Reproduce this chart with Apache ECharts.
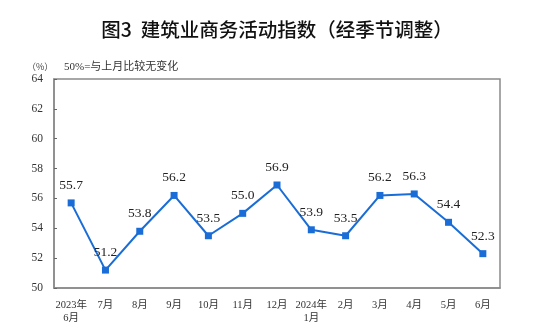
<!DOCTYPE html>
<html><head><meta charset="utf-8">
<script src="https://cdn.jsdelivr.net/npm/echarts@6/dist/echarts.min.js"></script>
<style>html,body{margin:0;padding:0;background:#fff}#c{width:554px;height:334px}</style>
</head><body><div id="c"></div>
<script>
var categories = ['2023年\n6月','7月','8月','9月','10月','11月','12月','2024年\n1月','2月','3月','4月','5月','6月'];
var values = [55.7, 51.2, 53.8, 56.2, 53.5, 55.0, 56.9, 53.9, 53.5, 56.2, 56.3, 54.4, 52.3];
var yTicks = [50, 52, 54, 56, 58, 60, 62, 64];
var titleText = '图3  建筑业商务活动指数（经季节调整）';
var unitText = '（%）';
var noteText = '50%=与上月比较无变化';

var chart = echarts.init(document.getElementById('c'), null, {renderer:'canvas'});
chart.setOption({
  animation: false,
  backgroundColor: '#fff',
  title: [
    {text: titleText, left: 'center', top: 15,
     textStyle: {fontFamily: '"Noto Sans CJK SC"', fontSize: 19.5, fontWeight: 500, color: '#111'}},
    {text: unitText, left: 22, top: 57,
     textStyle: {fontFamily: '"Noto Sans CJK SC"', fontSize: 9, fontWeight: 'normal', color: '#444'}},
    {text: noteText, left: 59, top: 57,
     textStyle: {fontFamily: '"Liberation Serif","Noto Sans CJK SC"', fontSize: 11, fontWeight: 'normal', color: '#333'}}
  ],
  grid: {left: 54, right: 54, top: 79, bottom: 46, show: true, borderColor: '#8a8a8a', borderWidth: 1.5, backgroundColor: 'transparent'},
  xAxis: {
    type: 'category', data: categories, boundaryGap: true,
    axisLine: {lineStyle: {color: '#8a8a8a', width: 1.5}},
    axisTick: {inside: true, length: 4, lineStyle: {color: '#666'}},
    axisLabel: {fontFamily: '"Liberation Serif","Noto Sans CJK SC"', fontSize: 10.5, color: '#333', margin: 11, lineHeight: 13, interval: 0}
  },
  yAxis: {
    type: 'value', min: yTicks[0], max: yTicks[yTicks.length-1], interval: 2,
    splitLine: {show: false},
    axisLine: {show: true, lineStyle: {color: '#8a8a8a', width: 1.5}},
    axisTick: {show: true, inside: true, length: 3, lineStyle: {color: '#666'}},
    axisLabel: {fontFamily: '"Liberation Serif"', fontSize: 11.5, color: '#333', margin: 11}
  },
  series: [{
    type: 'line', data: values,
    symbol: 'rect', symbolSize: 7,
    lineStyle: {color: '#1a6dd6', width: 2},
    itemStyle: {color: '#1a6dd6'},
    label: {show: true, position: 'top', distance: 7, formatter: function(p){return p.value.toFixed(1);},
      fontFamily: '"Liberation Serif"', fontSize: 13.5, color: '#222'}
  }]
});
</script></body></html>
